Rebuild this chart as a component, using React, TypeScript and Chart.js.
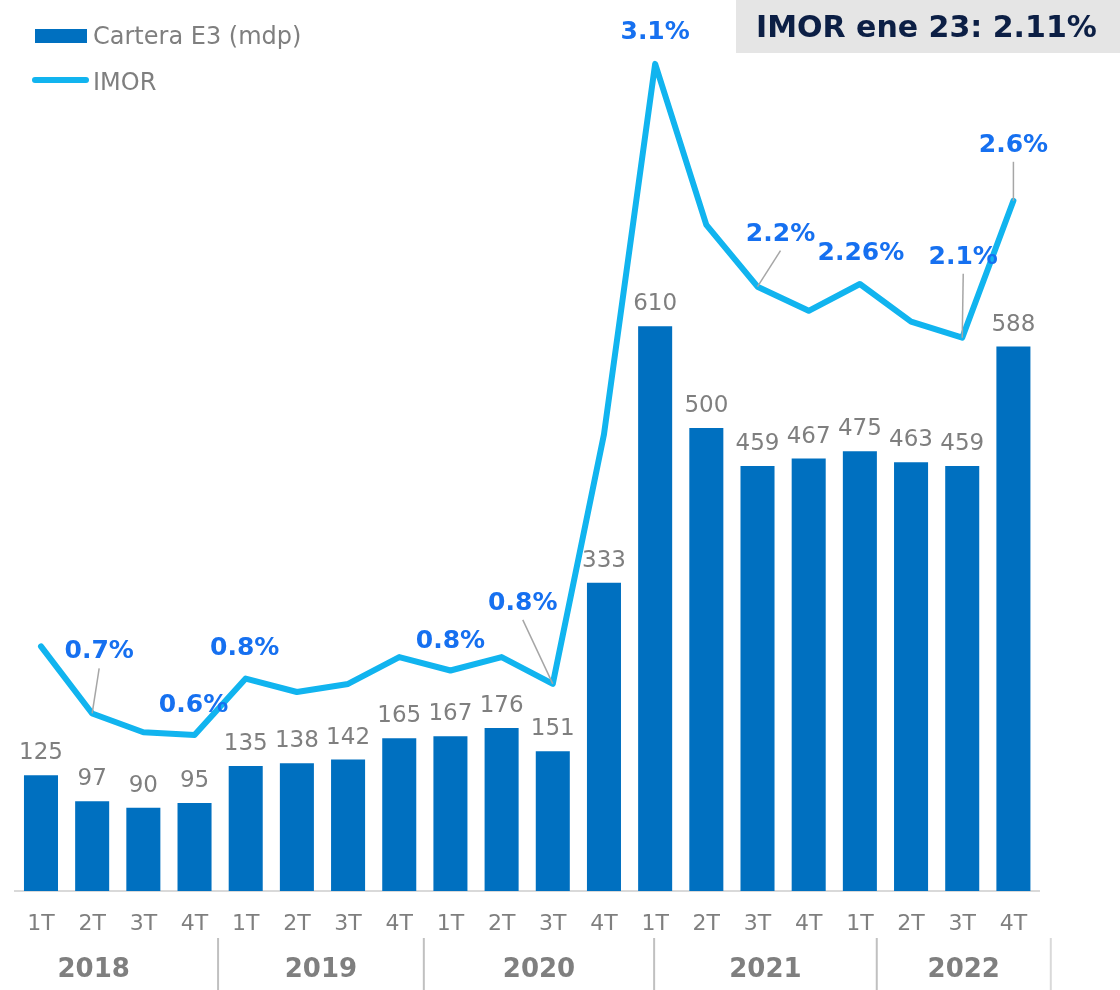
import React, { useEffect, useRef } from 'react';
import { Chart, registerables } from 'chart.js';

Chart.register(...registerables);

// ---------------- data ----------------
const QUARTERS = [
  '1T', '2T', '3T', '4T',
  '1T', '2T', '3T', '4T',
  '1T', '2T', '3T', '4T',
  '1T', '2T', '3T', '4T',
  '1T', '2T', '3T', '4T',
];
const YEARS = ['2018', '2019', '2020', '2021', '2022'];
const CARTERA_E3 = [125, 97, 90, 95, 135, 138, 142, 165, 167, 176, 151, 333, 610, 500, 459, 467, 475, 463, 459, 588];
const IMOR = [0.93, 0.68, 0.61, 0.6, 0.81, 0.76, 0.79, 0.89, 0.84, 0.89, 0.79, 1.72, 3.1, 2.5, 2.27, 2.18, 2.28, 2.14, 2.08, 2.59];
const IMOR_LABELS: (string | null)[] = [
  null, '0.7%', null, '0.6%',
  '0.8%', null, null, null,
  '0.8%', null, '0.8%', null,
  '3.1%', null, '2.2%', null,
  '2.26%', null, '2.1%', '2.6%',
];
const SERIES_NAMES = ['Cartera E3 (mdp)', 'IMOR'];
const HEADLINE = 'IMOR ene 23: 2.11%';

// ---------------- style / placement ----------------
const FONT = '"DejaVu Sans", Verdana, sans-serif';
const BAR_COLOR = '#0070c0';
const LINE_COLOR = '#11b4ef';
const LABEL_BLUE = '#1670f0';
const GRAY = '#7f7f7f';
const NAVY = '#0c1f45';

// label offsets (px, relative to the point; dy is to the text baseline)
const IMOR_LABEL_PLACEMENT: Record<number, { dx: number; dy: number; leader?: boolean }> = {
  1: { dx: 7, dy: -55, leader: true },
  3: { dx: -1, dy: -23 },
  4: { dx: -1, dy: -24 },
  8: { dx: 0, dy: -23 },
  10: { dx: -30, dy: -74, leader: true },
  12: { dx: 0, dy: -25 },
  14: { dx: 23, dy: -46, leader: true },
  16: { dx: 1, dy: -24 },
  18: { dx: 1, dy: -74, leader: true },
  19: { dx: 0, dy: -49, leader: true },
};
// year group edges, in category-index units
const GROUP_EDGES = [-1.4, 3.46, 7.48, 11.98, 16.33, 19.73];

const overlayPlugin = {
  id: 'overlay',
  afterDraw(chart: any) {
    const ctx = chart.ctx as CanvasRenderingContext2D;
    const xScale = chart.scales.x;
    const barMeta = chart.getDatasetMeta(0);
    const lineMeta = chart.getDatasetMeta(1);
    ctx.save();

    // bar value labels
    ctx.font = `23px ${FONT}`;
    ctx.fillStyle = GRAY;
    ctx.textAlign = 'center';
    ctx.textBaseline = 'alphabetic';
    barMeta.data.forEach((bar: any, i: number) => {
      ctx.fillText(String(CARTERA_E3[i]), bar.x, bar.y - 16);
    });

    // IMOR labels and leader lines
    lineMeta.data.forEach((pt: any, i: number) => {
      const text = IMOR_LABELS[i];
      const pl = IMOR_LABEL_PLACEMENT[i];
      if (!text || !pl) return;
      const lx = pt.x + pl.dx;
      const ly = pt.y + pl.dy;
      if (pl.leader) {
        ctx.strokeStyle = '#a6a6a6';
        ctx.lineWidth = 1.5;
        ctx.beginPath();
        ctx.moveTo(lx, ly + 10);
        ctx.lineTo(pt.x, pt.y);
        ctx.stroke();
      }
      ctx.font = `bold 25px ${FONT}`;
      ctx.fillStyle = LABEL_BLUE;
      ctx.textAlign = 'center';
      ctx.fillText(text, lx, ly);
    });

    // year separators and labels
    for (let k = 1; k < GROUP_EDGES.length; k++) {
      const sx = xScale.getPixelForValue(GROUP_EDGES[k]);
      ctx.strokeStyle = k === GROUP_EDGES.length - 1 ? '#d9d9d9' : '#c0c0c0';
      ctx.lineWidth = 2;
      ctx.beginPath();
      ctx.moveTo(sx, 938);
      ctx.lineTo(sx, 990);
      ctx.stroke();
    }
    ctx.font = `bold 26px ${FONT}`;
    ctx.fillStyle = GRAY;
    ctx.textAlign = 'center';
    YEARS.forEach((y, k) => {
      const cx = xScale.getPixelForValue((GROUP_EDGES[k] + GROUP_EDGES[k + 1]) / 2);
      ctx.fillText(y, cx, 977);
    });

    // legend
    const ds = chart.data.datasets;
    ctx.fillStyle = ds[0].backgroundColor;
    ctx.fillRect(35, 29, 52, 14);
    ctx.strokeStyle = ds[1].borderColor;
    ctx.lineWidth = 6;
    ctx.lineCap = 'round';
    ctx.beginPath();
    ctx.moveTo(35, 80);
    ctx.lineTo(86, 80);
    ctx.stroke();
    ctx.font = `24px ${FONT}`;
    ctx.fillStyle = GRAY;
    ctx.textAlign = 'left';
    ctx.fillText(ds[0].label, 93, 44);
    ctx.fillText(ds[1].label, 93, 90);

    // headline box
    ctx.fillStyle = '#e5e5e5';
    ctx.fillRect(736, 0, 384, 53);
    ctx.font = `bold 30px ${FONT}`;
    ctx.fillStyle = NAVY;
    ctx.textAlign = 'left';
    ctx.fillText(HEADLINE, 756, 37);

    ctx.restore();
  },
};

export default function App() {
  const canvasRef = useRef<HTMLCanvasElement | null>(null);

  useEffect(() => {
    if (!canvasRef.current) return;
    const chart = new Chart(canvasRef.current, {
      type: 'bar',
      data: {
        labels: QUARTERS,
        datasets: [
          {
            type: 'bar',
            label: SERIES_NAMES[0],
            data: CARTERA_E3,
            backgroundColor: BAR_COLOR,
            yAxisID: 'y',
            barPercentage: 0.665,
            categoryPercentage: 1,
            order: 1,
          },
          {
            type: 'line',
            label: SERIES_NAMES[1],
            data: IMOR,
            borderColor: LINE_COLOR,
            backgroundColor: LINE_COLOR,
            borderWidth: 6,
            pointRadius: 0,
            tension: 0,
            fill: false,
            borderCapStyle: 'round',
            borderJoinStyle: 'round',
            yAxisID: 'y2',
            order: 0,
          },
        ] as any,
      },
      options: {
        animation: false,
        responsive: false,
        maintainAspectRatio: false,
        devicePixelRatio: 1,
        layout: { padding: { left: 15.4, right: 81, top: 40, bottom: 32.6 } },
        plugins: { legend: { display: false }, tooltip: { enabled: false }, title: { display: false } },
        scales: {
          x: {
            grid: { display: false, drawTicks: false },
            border: { display: true, color: '#d9d9d9', width: 2 },
            ticks: {
              color: GRAY,
              font: { family: FONT, size: 22, lineHeight: 1.2 },
              padding: 20,
              maxRotation: 0,
              autoSkip: false,
            },
          },
          y: { display: false, min: 0, max: 919 },
          y2: { display: false, min: 0.0186, max: 3.189, position: 'right' },
        },
      },
      plugins: [overlayPlugin],
    });
    return () => chart.destroy();
  }, []);

  return (
    <div style={{ position: 'absolute', left: 0, top: 0, width: 1120, height: 990, background: '#ffffff' }}>
      <canvas ref={canvasRef} width={1120} height={990} style={{ width: 1120, height: 990, display: 'block' }} />
    </div>
  );
}
